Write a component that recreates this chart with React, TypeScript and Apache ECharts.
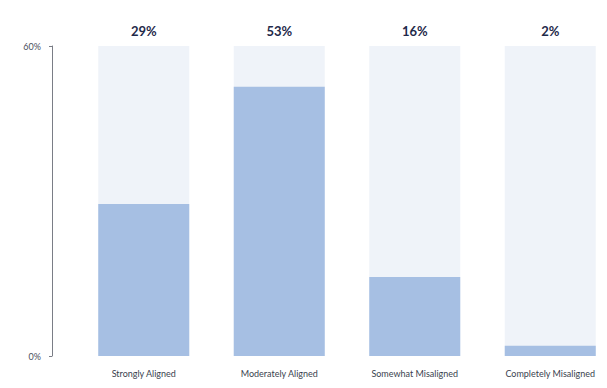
import React, { useEffect, useRef } from "react";
import * as echarts from "echarts";

const categories = ["Strongly Aligned", "Moderately Aligned", "Somewhat Misaligned", "Completely Misaligned"];
const values = [29.4, 52.1, 15.3, 2.0];
const topLabels = ["29%", "53%", "16%", "2%"];
const yTickLabels = ["0%", "60%"];

export default function App() {
  const ref = useRef<HTMLDivElement>(null);
  useEffect(() => {
    if (!ref.current) return;
    const chart = echarts.init(ref.current, undefined, { renderer: "svg" });
    chart.setOption({
      animation: false,
      backgroundColor: "#ffffff",
      grid: { left: 76, width: 542, top: 46, bottom: 32, outerBoundsMode: "none", containLabel: false },
      xAxis: [
        {
          type: "category",
          data: categories,
          position: "bottom",
          axisLine: { show: false },
          axisTick: { show: false },
          axisLabel: { color: "#3a3f4e", fontSize: 9, fontFamily: "Lato", margin: 13 },
        },
        {
          type: "category",
          data: topLabels,
          position: "top",
          axisLine: { show: false },
          axisTick: { show: false },
          axisLabel: { color: "#1f2a4a", fontSize: 13, fontWeight: "bold", fontFamily: "Lato", margin: 9 },
        },
      ],
      yAxis: {
        type: "value",
        min: 0,
        max: 60,
        interval: 60,
        offset: 24,
        splitLine: { show: false },
        axisLine: { show: true, lineStyle: { color: "#7a7d86", width: 1 } },
        axisTick: { show: true, length: 3, lineStyle: { color: "#7a7d86" } },
        axisLabel: {
          color: "#4a4f5e",
          fontSize: 9,
          fontFamily: "Lato",
          margin: 11,
          formatter: (v: number) => (v === 0 ? yTickLabels[0] : yTickLabels[1]),
        },
      },
      series: [
        {
          type: "bar",
          data: values,
          xAxisIndex: 0,
          barWidth: 91,
          itemStyle: { color: "#a6bfe3" },
          showBackground: true,
          backgroundStyle: { color: "#eff3f9" },
        },
      ],
    });
    return () => chart.dispose();
  }, []);
  return <div ref={ref} style={{ position: "fixed", left: 0, top: 0, width: 607, height: 388 }} />;
}
